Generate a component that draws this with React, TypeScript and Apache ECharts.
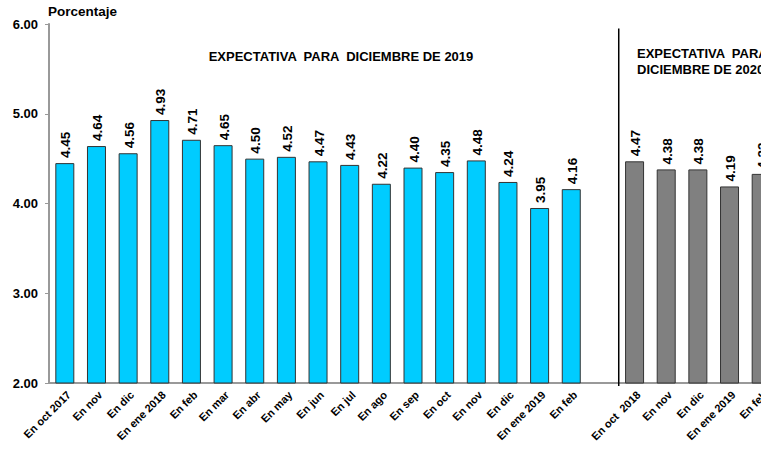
import React, { useEffect, useRef } from "react";
import * as echarts from "echarts";

const cats2019 = ["En oct 2017", "En nov", "En dic", "En ene 2018", "En feb", "En mar", "En abr", "En may", "En jun", "En jul", "En ago", "En sep", "En oct", "En nov", "En dic", "En ene 2019", "En feb"];
const vals2019 = [4.45, 4.64, 4.56, 4.93, 4.71, 4.65, 4.50, 4.52, 4.47, 4.43, 4.22, 4.40, 4.35, 4.48, 4.24, 3.95, 4.16];
const cats2020 = ["En oct  2018", "En nov", "En dic", "En ene 2019", "En feb"];
const vals2020 = [4.47, 4.38, 4.38, 4.19, 4.33];
const yMin = 2;
const yMax = 6;
const yStep = 1;
const yAxisName = "Porcentaje";
const title2019 = "EXPECTATIVA  PARA  DICIEMBRE DE 2019";
const title2020 = "EXPECTATIVA  PARA\nDICIEMBRE DE 2020";

const FONT = "'Liberation Sans', Arial, sans-serif";

export default function App() {
  const ref = useRef<HTMLDivElement>(null);
  useEffect(() => {
    document.body.style.margin = "0";
    if (!ref.current) return;
    const chart = echarts.init(ref.current, null, { renderer: "svg" });
    const categories = [...cats2019, " ", ...cats2020];
    const gap = 1;
    const dataA = [...vals2019, ...new Array(gap + vals2020.length).fill("-")];
    const dataB = [...new Array(vals2019.length + gap).fill("-"), ...vals2020];
    const labelData: [number, number][] = [];
    vals2019.forEach((v, i) => labelData.push([i, v]));
    vals2020.forEach((v, i) => labelData.push([vals2019.length + gap + i, v]));
    chart.setOption({
      animation: false,
      grid: { left: 49, right: 0, top: 24, bottom: 67, containLabel: false },
      title: [
        {
          text: title2019,
          left: 336,
          top: 45,
          textAlign: "center",
          textStyle: { fontFamily: FONT, fontWeight: "bold", fontSize: 13, color: "#000" },
        },
        {
          text: title2020,
          left: 632,
          top: 40,
          textStyle: { fontFamily: FONT, fontWeight: "bold", fontSize: 13, color: "#000", lineHeight: 16 },
        },
      ],
      xAxis: {
        type: "category",
        data: categories,
        boundaryGap: true,
        axisLine: { show: true, lineStyle: { color: "#999", width: 2 } },
        axisTick: { show: false },
        axisLabel: {
          interval: 0,
          rotate: 45,
          margin: 6,
          verticalAlign: "top",
          fontFamily: FONT,
          fontWeight: "bold",
          fontSize: 11,
          color: "#000",
        },
        splitLine: { show: false },
      },
      yAxis: {
        type: "value",
        min: yMin,
        max: yMax,
        interval: yStep,
        name: yAxisName,
        nameLocation: "end",
        nameGap: 6,
        nameTextStyle: { fontFamily: FONT, fontWeight: "bold", fontSize: 13.5, color: "#000", align: "left", padding: [0, 0, 0, -1] },
        axisLine: { show: true, lineStyle: { color: "#999", width: 2 } },
        axisTick: { show: true, length: 4, lineStyle: { color: "#999", width: 1 } },
        axisLabel: {
          margin: 11,
          fontFamily: FONT,
          fontWeight: "bold",
          fontSize: 13,
          color: "#000",
          formatter: (v: number) => v.toFixed(2),
        },
        splitLine: { show: false },
      },
      series: [
        {
          type: "bar",
          data: dataA,
          barWidth: 19,
          barGap: "-100%",
          itemStyle: { color: "#00CCFF", borderColor: "#333", borderWidth: 1 },
        },
        {
          type: "bar",
          data: dataB,
          barWidth: 19,
          barGap: "-100%",
          itemStyle: { color: "#808080", borderColor: "#333", borderWidth: 1 },
        },
        {
          type: "custom",
          data: labelData,
          silent: true,
          z: 5,
          encode: { x: 0, y: 1 },
          renderItem: (params: any, api: any) => {
            const v = api.value(1);
            const p = api.coord([api.value(0), v]);
            return {
              type: "text",
              x: p[0] + 1,
              y: p[1] - 5,
              rotation: Math.PI / 2,
              style: {
                text: Number(v).toFixed(2),
                align: "left",
                verticalAlign: "middle",
                fontFamily: FONT,
                fontWeight: "bold",
                fontSize: 13.5,
                fill: "#000",
              },
            };
          },
        },
      ],
    });
    const idx = vals2019.length + gap;
    const xa = chart.convertToPixel({ xAxisIndex: 0 }, idx - 1) as number;
    const xb = chart.convertToPixel({ xAxisIndex: 0 }, idx) as number;
    const xSep = (xa + xb) / 2;
    const yTop = chart.convertToPixel({ yAxisIndex: 0 }, yMax - 0.05) as number;
    const yBot = chart.convertToPixel({ yAxisIndex: 0 }, yMin) as number;
    chart.setOption({
      graphic: [
        {
          type: "line",
          shape: { x1: xSep, y1: yTop, x2: xSep, y2: yBot + 3 },
          style: { stroke: "#000", lineWidth: 1.5 },
          z: 10,
        },
      ],
    });
    return () => chart.dispose();
  }, []);
  return (
    <div style={{ width: 761, height: 450, overflow: "hidden", position: "relative" }}>
      <div ref={ref} style={{ width: 777, height: 450 }} />
    </div>
  );
}
